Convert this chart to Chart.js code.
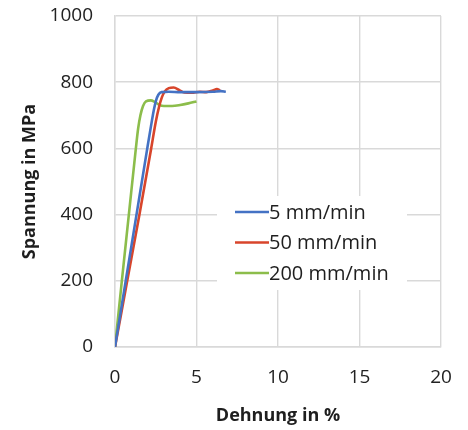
<!DOCTYPE html>
<html>
<head>
<meta charset="utf-8">
<script src="https://cdn.jsdelivr.net/npm/chart.js@4/dist/chart.umd.min.js"></script>
<style>
html,body{margin:0;padding:0;background:#ffffff;}
#wrap{width:468px;height:430px;}
</style>
</head>
<body>
<div id="wrap"><canvas id="c" width="468" height="430"></canvas></div>
<script>
// ---- data ----
const seriesLabels = ['5 mm/min', '50 mm/min', '200 mm/min'];
const seriesColors = ['#4472c4', '#d8452b', '#8cbd4b'];

const strain5 = [0, 0.66, 1.32, 1.98, 2.2, 2.38, 2.52, 2.66, 2.85, 3.3, 4.0, 5.0, 6.0, 6.5, 6.8];
const stress5 = [0, 200, 400, 600, 665, 715, 745, 762, 770, 771, 770, 770, 771, 773, 771];

const strain50 = [0, 0.75, 1.5, 2.22, 2.5, 2.7, 2.88, 3.05, 3.3, 3.6, 3.95, 4.25, 4.7, 5.2, 5.6, 6.0, 6.25, 6.45];
const stress50 = [0, 200, 400, 600, 680, 725, 755, 772, 782, 784, 776, 769, 768, 771, 770, 775, 779, 775];

const strain200 = [0, 0.42, 0.85, 1.28, 1.42, 1.56, 1.72, 1.9, 2.2, 2.45, 2.7, 3.0, 3.5, 4.0, 4.5, 5.0];
const stress200 = [0, 200, 400, 600, 660, 700, 728, 742, 745, 740, 732, 728, 728, 731, 736, 742];

const xTickValues = [0, 5, 10, 15, 20];
const yTickValues = [0, 200, 400, 600, 800, 1000];
const xTitle = 'Dehnung in %';
const yTitle = 'Spannung in MPa';

// ---- build datasets ----
function pairs(xs, ys) { return xs.map((x, i) => ({ x: x, y: ys[i] })); }
const seriesData = [pairs(strain5, stress5), pairs(strain50, stress50), pairs(strain200, stress200)];

const datasets = seriesLabels.map((label, i) => ({
  label: label,
  data: seriesData[i],
  borderColor: seriesColors[i],
  backgroundColor: seriesColors[i],
  borderWidth: 2.6,
  pointRadius: 0,
  showLine: true,
  fill: false,
  cubicInterpolationMode: 'monotone'
}));

// legend drawn in the chart area, white box over the grid (as in the reference)
const boxLegend = {
  id: 'boxLegend',
  afterDatasetsDraw(chart) {
    const { ctx, chartArea: a } = chart;
    const bx = a.left + 102, by = a.top + 180, bw = 190, bh = 94;
    ctx.save();
    ctx.fillStyle = '#ffffff';
    ctx.fillRect(bx, by, bw, bh);
    ctx.font = '20px "Open Sans"';
    ctx.textBaseline = 'middle';
    ctx.textAlign = 'left';
    chart.data.datasets.forEach((ds, i) => {
      const y = by + 16 + i * 30.5;
      ctx.strokeStyle = ds.borderColor;
      ctx.lineWidth = 2.5;
      ctx.beginPath();
      ctx.moveTo(bx + 18, y);
      ctx.lineTo(bx + 52, y);
      ctx.stroke();
      ctx.fillStyle = '#1e1e1e';
      ctx.fillText(ds.label, bx + 52, y + 1);
    });
    ctx.restore();
  }
};

const gridColor = '#d9d9d9';

new Chart(document.getElementById('c'), {
  type: 'scatter',
  data: { datasets: datasets },
  plugins: [boxLegend],
  options: {
    responsive: false,
    animation: false,
    layout: { padding: { top: 16, right: 27, left: 0, bottom: 0 } },
    plugins: {
      legend: { display: false },
      tooltip: { enabled: false }
    },
    scales: {
      x: {
        type: 'linear',
        min: 0, max: 20,
        afterBuildTicks: s => { s.ticks = xTickValues.map(v => ({ value: v })); },
        afterFit: s => { s.height = 83; s.paddingLeft = 0; s.paddingRight = 0; },
        grid: { color: gridColor, lineWidth: 1.4, drawTicks: false },
        border: { color: gridColor, width: 1.4 },
        ticks: {
          padding: 19, color: '#222222', maxRotation: 0,
          font: { family: 'Open Sans', size: 19 },
          callback: v => String(v)
        },
        title: {
          display: true, text: xTitle, color: '#1e1e1e',
          font: { family: 'Open Sans', size: 18, weight: 'bold' },
          padding: { top: 0, bottom: 3 }
        }
      },
      y: {
        type: 'linear',
        min: 0, max: 1000,
        afterBuildTicks: s => { s.ticks = yTickValues.map(v => ({ value: v })); },
        afterFit: s => { s.width = 115; s.paddingTop = 0; s.paddingBottom = 0; },
        grid: { color: gridColor, lineWidth: 1.4, drawTicks: false },
        border: { color: gridColor, width: 1.4 },
        ticks: {
          padding: 22, color: '#222222',
          font: { family: 'Open Sans', size: 19 },
          callback: v => String(v)
        },
        title: {
          display: true, text: yTitle, color: '#1e1e1e',
          font: { family: 'Open Sans', size: 18, weight: 'bold' },
          padding: { top: 19, bottom: 0 }
        }
      }
    }
  }
});
</script>
</body>
</html>
